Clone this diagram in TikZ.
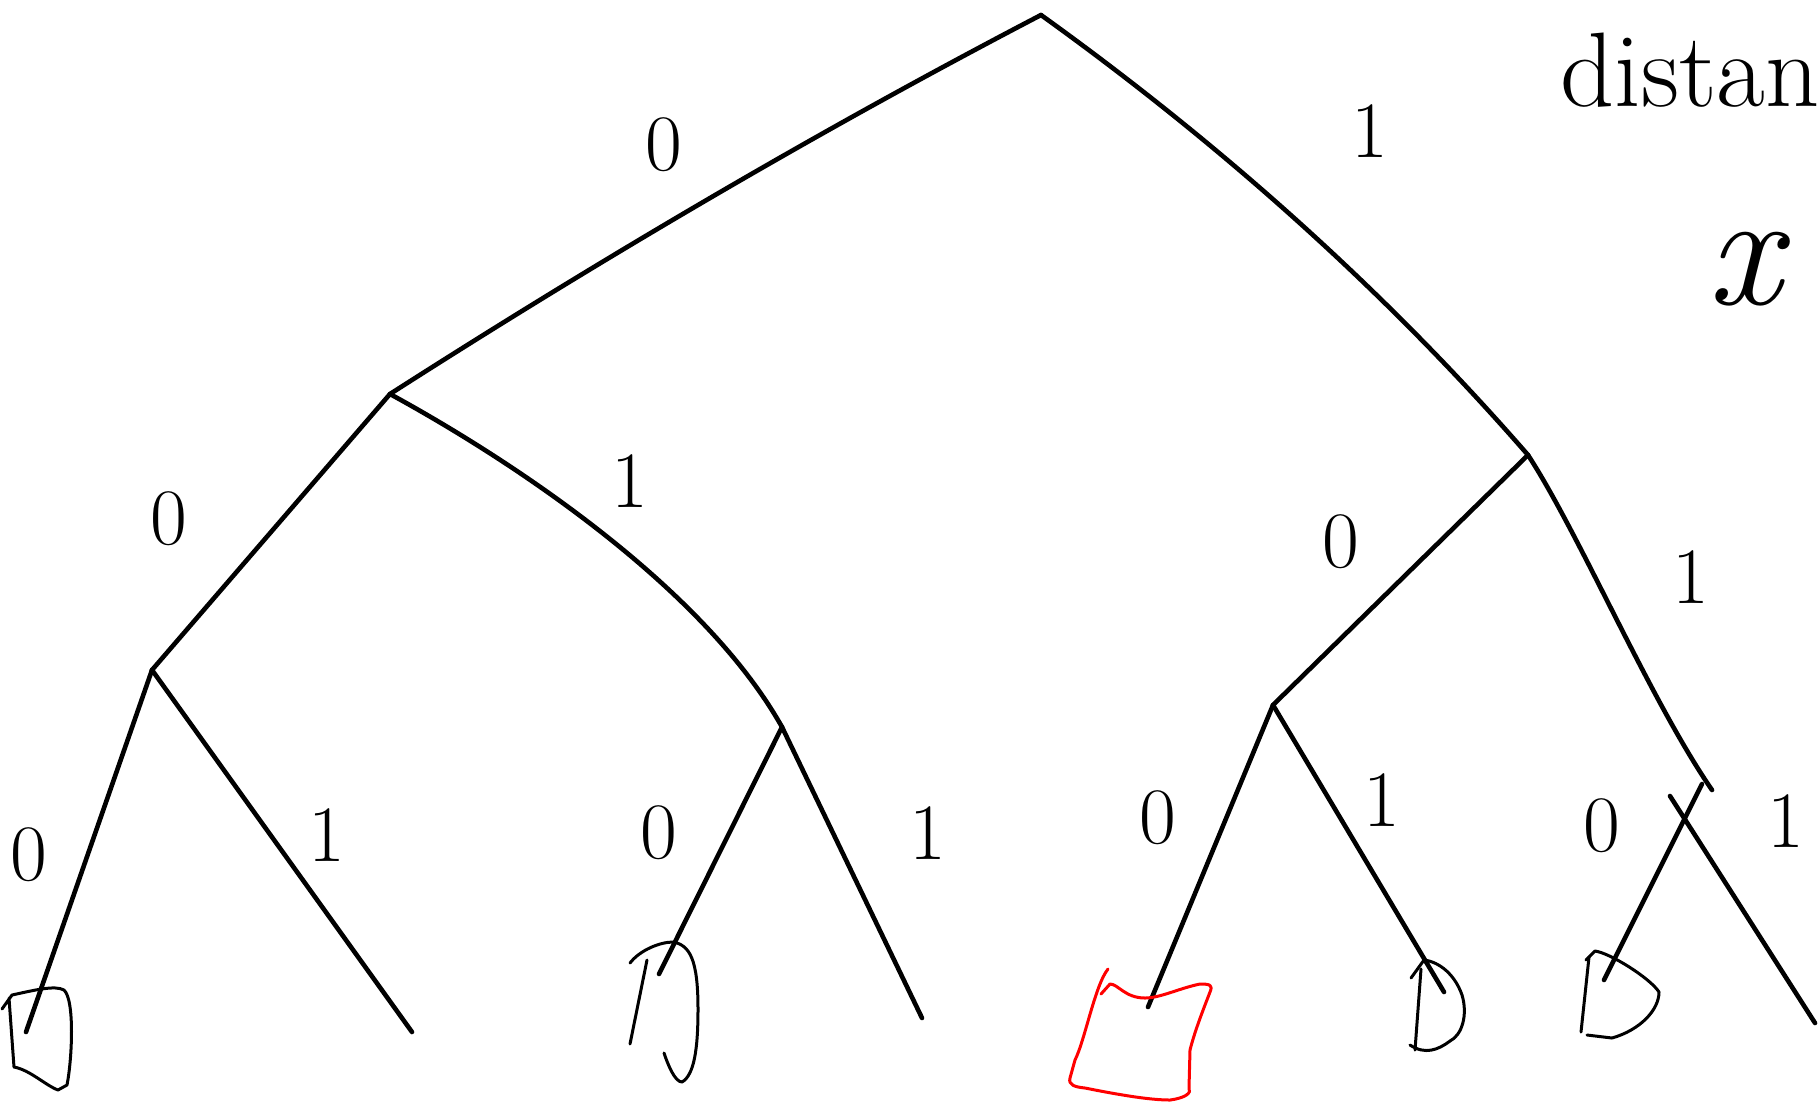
\documentclass[tikz,border=0pt]{standalone}
\begin{document}
\begin{tikzpicture}[x=0.5pt,y=-0.5pt,
  edge/.style={line width=2.3pt,line cap=round,line join=round},
  leafshape/.style={line width=1.5pt,line cap=round,line join=round},
  lbl/.style={font=\fontsize{40}{44}\selectfont, inner sep=0pt}]
\clip (0,0) rectangle (1819,1105);
\useasboundingbox (0,0) rectangle (1819,1105);
% tree vertices
\coordinate (root) at (1041,15);
\coordinate (L) at (390,394);
\coordinate (R) at (1528,455);
\coordinate (LL) at (152,670);
\coordinate (LR) at (782,727);
\coordinate (RL) at (1273,705);
\coordinate (RR) at (1712,790);
\coordinate (RRa) at (1702,784);
\coordinate (RRb) at (1670,796);
% leaf ends
\coordinate (ll0) at (26,1032);
\coordinate (ll1) at (412,1032);
\coordinate (lr0) at (659,974);
\coordinate (lr1) at (922,1018);
\coordinate (rl0) at (1148,1007);
\coordinate (rl1) at (1444,992);
\coordinate (rr0) at (1604,980);
\coordinate (rr1) at (1815,1023);
% edges
\draw[edge] (root) .. controls (830,125) and (615,250) .. (L);
\draw[edge] (root) .. controls (1215,140) and (1380,285) .. (R);
\draw[edge] (L) -- (LL);
\draw[edge] (L) .. controls (520,465) and (705,590) .. (LR);
\draw[edge] (R) -- (RL);
\draw[edge] (R) .. controls (1580,535) and (1650,700) .. (RR);
\draw[edge] (LL) -- (ll0);
\draw[edge] (LL) -- (ll1);
\draw[edge] (LR) -- (lr0);
\draw[edge] (LR) -- (lr1);
\draw[edge] (RL) -- (rl0);
\draw[edge] (RL) -- (rl1);
\draw[edge] (RRa) -- (rr0);
\draw[edge] (RRb) -- (rr1);
% edge labels
\node[lbl] (e1) at (664,145) {0};
\node[lbl] (e2) at (1370,131) {1};
\node[lbl] (e3) at (169,519) {0};
\node[lbl] (e4) at (630,481) {1};
\node[lbl] (e5) at (1341,542) {0};
\node[lbl] (e6) at (1691,577) {1};
\node[lbl] (e7) at (29,855) {0};
\node[lbl] (e8) at (327,835) {1};
\node[lbl] (e9) at (659,833) {0};
\node[lbl] (e10) at (928,833) {1};
\node[lbl] (e11) at (1158,818) {0};
\node[lbl] (e12) at (1382,800) {1};
\node[lbl] (e13) at (1602,826) {0};
\node[lbl] (e14) at (1786,821) {1};
% leaf marks
\draw[leafshape] (2,1009) -- (12,995) .. controls (35,990) and (55,985) .. (64,990)
  .. controls (75,1000) and (72,1060) .. (67,1085) -- (58,1090)
  .. controls (45,1085) and (30,1070) .. (14,1067) -- (9,998);
\draw[leafshape] (647,960) -- (630,1044);
\draw[leafshape] (630,963) .. controls (640,950) and (660,942) .. (673,942)
  .. controls (690,945) and (698,960) .. (698,1009)
  .. controls (698,1050) and (694,1075) .. (682,1082) .. controls (675,1082) and (668,1065) .. (664,1053);
\draw[leafshape,red] (1108,969) .. controls (1095,985) and (1085,1040) .. (1075,1060)
  -- (1070,1078) .. controls (1068,1085) and (1075,1087) .. (1085,1088)
  .. controls (1120,1095) and (1150,1100) .. (1170,1100) .. controls (1185,1098) and (1192,1093) .. (1189,1088)
  -- (1190,1050) .. controls (1195,1030) and (1205,1005) .. (1210,992)
  .. controls (1213,985) and (1210,984) .. (1200,984)
  .. controls (1180,988) and (1160,998) .. (1145,998)
  .. controls (1125,998) and (1118,984) .. (1110,984) -- (1101,994);
\draw[leafshape] (1421,969) -- (1415,1050);
\draw[leafshape] (1411,978) -- (1424,960) .. controls (1440,962) and (1455,975) .. (1462,995)
  .. controls (1468,1015) and (1462,1035) .. (1450,1041) .. controls (1438,1050) and (1425,1055) .. (1410,1045);
\draw[leafshape] (1589,957) -- (1581,1032);
\draw[leafshape] (1586,960) -- (1595,951) .. controls (1610,953) and (1650,978) .. (1659,992)
  .. controls (1659,1010) and (1640,1030) .. (1612,1038) -- (1587,1035);
% side text
\node[font=\fontsize{53}{56}\selectfont, anchor=base west, inner sep=0pt] (dist) at (1560,106) {distance};
\node[font=\fontsize{82}{82}\selectfont\itshape, inner sep=0pt] (xx) at (1744,269) {x};
\end{tikzpicture}
\end{document}
